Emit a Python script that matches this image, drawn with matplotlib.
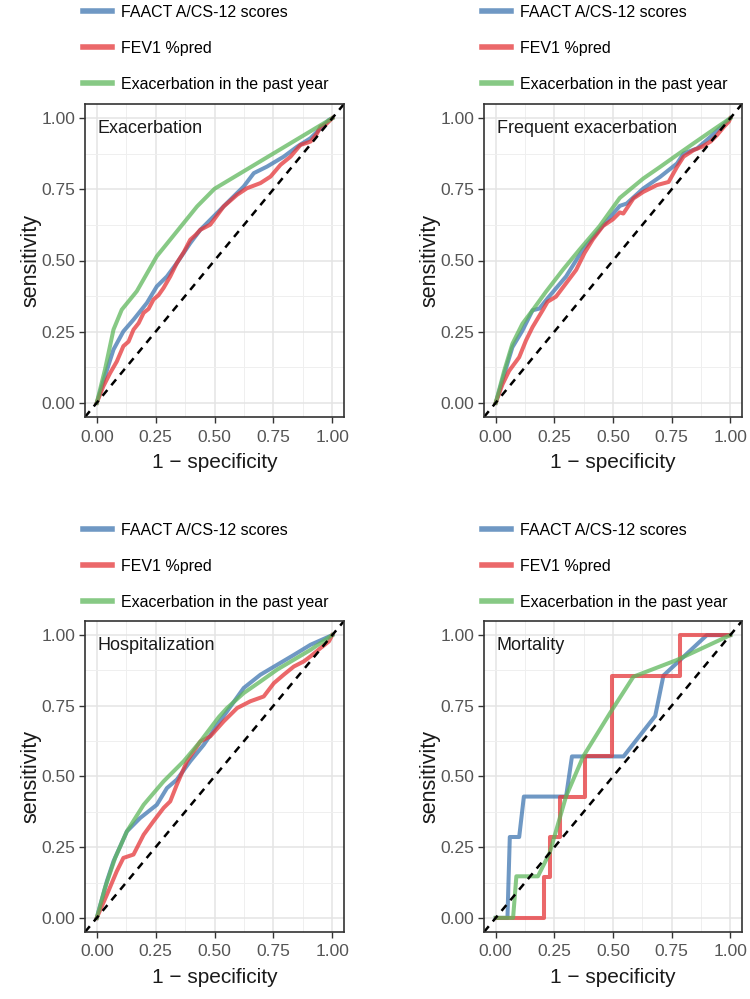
import matplotlib.pyplot as plt

plt.rcParams['font.family'] = ['Liberation Sans', 'DejaVu Sans']

# legend labels and panel titles
labels = ['FAACT A/CS-12 scores', 'FEV1 %pred', 'Exacerbation in the past year']
titles = ['Exacerbation', 'Frequent exacerbation', 'Hospitalization', 'Mortality']
ticks = [0.0, 0.25, 0.5, 0.75, 1.0]
tick_labels = ['0.00', '0.25', '0.50', '0.75', '1.00']

# ROC curves (1 - specificity, sensitivity)
exa_faact_x = [0, 0.035, 0.071, 0.113, 0.156, 0.213, 0.255, 0.298, 0.34, 0.397, 0.44, 0.482, 0.553, 0.624, 0.667, 0.723, 0.794, 0.851, 0.908, 0.986, 1]
exa_faact_y = [0, 0.094, 0.187, 0.251, 0.292, 0.351, 0.409, 0.444, 0.491, 0.561, 0.608, 0.643, 0.702, 0.76, 0.807, 0.83, 0.865, 0.9, 0.93, 0.994, 1]
exa_fev_x = [0, 0.028, 0.057, 0.085, 0.113, 0.135, 0.156, 0.178, 0.199, 0.22, 0.241, 0.262, 0.284, 0.312, 0.34, 0.37, 0.397, 0.42, 0.44, 0.482, 0.539, 0.596, 0.638, 0.695, 0.738, 0.78, 0.823, 0.865, 0.908, 0.936, 0.95, 0.975, 1]
exa_fev_y = [0, 0.058, 0.105, 0.145, 0.199, 0.215, 0.257, 0.28, 0.316, 0.33, 0.363, 0.378, 0.404, 0.444, 0.491, 0.53, 0.573, 0.59, 0.608, 0.626, 0.69, 0.731, 0.754, 0.772, 0.795, 0.836, 0.865, 0.906, 0.918, 0.947, 0.971, 0.98, 1]
exa_past_x = [0, 0.035, 0.071, 0.106, 0.17, 0.255, 0.34, 0.426, 0.5, 1]
exa_past_y = [0, 0.117, 0.257, 0.327, 0.392, 0.515, 0.602, 0.69, 0.752, 1]

freq_faact_x = [0, 0.036, 0.071, 0.114, 0.157, 0.186, 0.221, 0.3, 0.371, 0.443, 0.529, 0.558, 0.629, 0.701, 0.773, 0.801, 0.859, 0.916, 1]
freq_faact_y = [0, 0.1, 0.195, 0.254, 0.325, 0.331, 0.367, 0.444, 0.538, 0.609, 0.692, 0.7, 0.753, 0.794, 0.841, 0.876, 0.894, 0.935, 1]
freq_fev_x = [0, 0.029, 0.057, 0.1, 0.129, 0.157, 0.2, 0.221, 0.257, 0.3, 0.343, 0.379, 0.414, 0.457, 0.5, 0.529, 0.544, 0.587, 0.629, 0.687, 0.737, 0.773, 0.801, 0.844, 0.88, 0.916, 0.944, 0.973, 0.994, 1]
freq_fev_y = [0, 0.065, 0.112, 0.16, 0.219, 0.266, 0.325, 0.355, 0.373, 0.42, 0.467, 0.527, 0.574, 0.621, 0.645, 0.669, 0.665, 0.718, 0.741, 0.765, 0.776, 0.829, 0.865, 0.888, 0.9, 0.918, 0.941, 0.97, 0.988, 1]
freq_past_x = [0, 0.036, 0.071, 0.114, 0.157, 0.214, 0.286, 0.357, 0.443, 0.529, 0.629, 0.701, 0.773, 0.844, 0.916, 1]
freq_past_y = [0, 0.112, 0.207, 0.278, 0.325, 0.39, 0.467, 0.538, 0.621, 0.72, 0.788, 0.829, 0.871, 0.912, 0.953, 1]

hosp_faact_x = [0, 0.043, 0.071, 0.128, 0.184, 0.255, 0.298, 0.34, 0.397, 0.454, 0.518, 0.553, 0.624, 0.695, 0.766, 0.837, 0.908, 1]
hosp_faact_y = [0, 0.13, 0.2, 0.306, 0.353, 0.4, 0.459, 0.489, 0.554, 0.612, 0.69, 0.73, 0.813, 0.86, 0.895, 0.93, 0.966, 1]
hosp_fev_x = [0, 0.043, 0.085, 0.113, 0.156, 0.199, 0.241, 0.284, 0.312, 0.34, 0.383, 0.44, 0.482, 0.539, 0.596, 0.652, 0.709, 0.752, 0.794, 0.837, 0.879, 0.908, 0.95, 0.986, 1]
hosp_fev_y = [0, 0.082, 0.165, 0.212, 0.224, 0.294, 0.342, 0.389, 0.412, 0.471, 0.554, 0.624, 0.642, 0.695, 0.742, 0.766, 0.783, 0.83, 0.86, 0.889, 0.907, 0.925, 0.954, 0.978, 1]
hosp_past_x = [0, 0.035, 0.078, 0.128, 0.199, 0.284, 0.369, 0.44, 0.518, 0.553, 0.624, 0.695, 0.766, 0.837, 0.908, 1]
hosp_past_y = [0, 0.106, 0.212, 0.306, 0.4, 0.483, 0.554, 0.624, 0.71, 0.742, 0.795, 0.836, 0.878, 0.913, 0.948, 1]

mort_faact_x = [0, 0.05, 0.055, 0.06, 0.1, 0.12, 0.3, 0.325, 0.545, 0.68, 0.715, 0.9, 1]
mort_faact_y = [0, 0, 0.143, 0.286, 0.286, 0.429, 0.429, 0.571, 0.571, 0.714, 0.857, 1, 1]
mort_fev_x = [0, 0.205, 0.205, 0.23, 0.23, 0.273, 0.273, 0.38, 0.38, 0.494, 0.494, 0.786, 0.786, 1]
mort_fev_y = [0, 0, 0.143, 0.143, 0.286, 0.286, 0.429, 0.429, 0.571, 0.571, 0.857, 0.857, 1, 1]
mort_past_x = [0, 0.074, 0.088, 0.18, 0.23, 0.3, 0.373, 0.487, 0.587, 0.772, 1]
mort_past_y = [0, 0, 0.147, 0.147, 0.23, 0.43, 0.571, 0.724, 0.853, 0.912, 1]

panels = [
    [(exa_faact_x, exa_faact_y), (exa_fev_x, exa_fev_y), (exa_past_x, exa_past_y)],
    [(freq_faact_x, freq_faact_y), (freq_fev_x, freq_fev_y), (freq_past_x, freq_past_y)],
    [(hosp_faact_x, hosp_faact_y), (hosp_fev_x, hosp_fev_y), (hosp_past_x, hosp_past_y)],
    [(mort_faact_x, mort_faact_y), (mort_fev_x, mort_fev_y), (mort_past_x, mort_past_y)],
]
colors = ['#3f76b0', '#e53538', '#5fb75c']

fig = plt.figure(figsize=(7.5, 9.99), dpi=100)
W, H = 750, 999
# axes boxes in pixels: left, top, right, bottom
boxes = [(85, 104, 344, 417), (484, 104, 742, 417), (85, 621, 344, 932), (484, 621, 742, 932)]
legend_tops = [5, 523]

for i, (l, t, r, b) in enumerate(boxes):
    ax = fig.add_axes([l / W, 1 - b / H, (r - l) / W, (b - t) / H])
    ax.set_xlim(-0.05, 1.05)
    ax.set_ylim(-0.05, 1.05)
    ax.set_xticks(ticks)
    ax.set_xticklabels(tick_labels)
    ax.set_yticks(ticks)
    ax.set_yticklabels(tick_labels)
    ax.set_xticks([0.125, 0.375, 0.625, 0.875], minor=True)
    ax.set_yticks([0.125, 0.375, 0.625, 0.875], minor=True)
    ax.grid(True, which='major', color='#e4e4e4', lw=1.1)
    ax.grid(True, which='minor', color='#efefef', lw=0.7)
    ax.set_axisbelow(True)
    ax.tick_params(which='major', direction='out', length=4, width=1, color='#333333',
                   labelsize=12.5, labelcolor='#555555', pad=3)
    ax.tick_params(axis='x', which='major', pad=5)
    ax.tick_params(which='minor', length=0)
    for s in ax.spines.values():
        s.set_color('#333333')
        s.set_linewidth(1.2)

    lines = []
    for (x, y), c, lab in zip(panels[i], colors, labels):
        ln, = ax.plot(x, y, color=c, alpha=0.75, lw=2.9, label=lab, solid_joinstyle='round')
        lines.append(ln)
    ax.axline((0, 0), slope=1, color='black', lw=1.8, ls=(0, (3, 2.5)))

    ax.text(0.005, 0.965, titles[i], fontsize=13, color='#1a1a1a', va='center', ha='left')
    ax.set_xlabel('1 \u2212 specificity', fontsize=15, color='#1a1a1a', labelpad=6)
    ax.set_ylabel('sensitivity', fontsize=15.5, color='#1a1a1a', labelpad=0)

    top = legend_tops[i // 2]
    leg = fig.legend(handles=lines, loc='upper left', bbox_to_anchor=((l - 2) / W, 1 - top / H),
                     frameon=False, fontsize=11.5, handlelength=1.8, handletextpad=0.6,
                     labelspacing=1.3, borderpad=0, borderaxespad=0)
    for h in leg.get_lines():
        h.set_linewidth(4)

fig.savefig('out.png', dpi=100)
